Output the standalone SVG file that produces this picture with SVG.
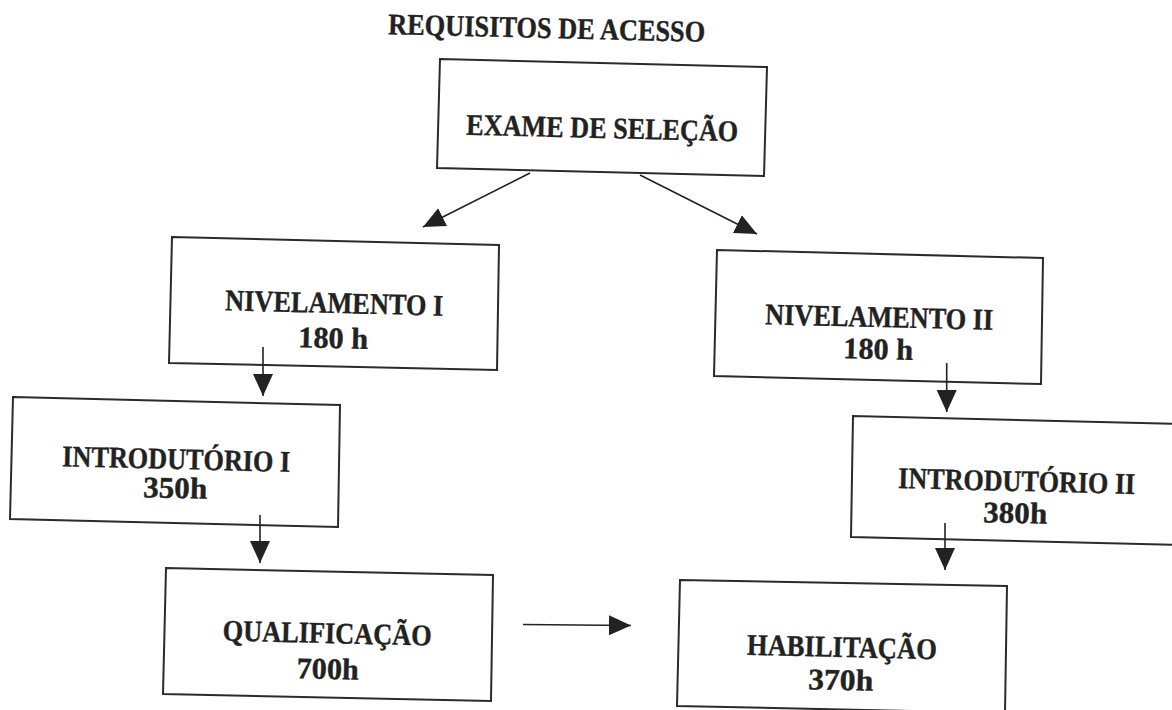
<svg xmlns="http://www.w3.org/2000/svg" width="1172" height="710" viewBox="0 0 1172 710">
<style>
.box{fill:none;stroke:#2b2b2b;stroke-width:2}
.lbl{font-family:"Liberation Serif","Times New Roman",serif;font-weight:bold;font-size:30px;fill:#222;stroke:#222;stroke-width:0.4;text-anchor:middle}
.conn{stroke:#222;stroke-width:1.6;fill:none;marker-end:url(#ah)}
</style>
<defs>
<marker id="ah" markerUnits="userSpaceOnUse" markerWidth="24" markerHeight="20" refX="22" refY="10" orient="auto">
<path d="M0,0 L22,10 L0,20 z" fill="#222"/>
</marker>
</defs>
<rect width="1172" height="710" fill="#fff"/>
<g id="title">
<text class="lbl" x="546.5" y="38" textLength="317" lengthAdjust="spacingAndGlyphs" transform="rotate(1.4 546.5 38)">REQUISITOS DE ACESSO</text>
</g>
<g id="exame">
<polygon class="box" points="440,59 767,67 764,176 437,168"/>
<text class="lbl" x="602" y="138" textLength="272" lengthAdjust="spacingAndGlyphs" transform="rotate(1.4 602 138)">EXAME DE SELEÇÃO</text>
</g>
<g id="nivelamento1">
<polygon class="box" points="172,237 499,245 497,370 169,363"/>
<text class="lbl" x="334" y="313" textLength="218" lengthAdjust="spacingAndGlyphs" transform="rotate(1.4 334 313)">NIVELAMENTO I</text>
<text class="lbl" x="333" y="348" textLength="70" lengthAdjust="spacingAndGlyphs" transform="rotate(1.4 333 348)">180 h</text>
</g>
<g id="nivelamento2">
<polygon class="box" points="717,250 1043,258 1041,384 714,376"/>
<text class="lbl" x="879" y="327" textLength="228" lengthAdjust="spacingAndGlyphs" transform="rotate(1.4 879 327)">NIVELAMENTO II</text>
<text class="lbl" x="878" y="359" textLength="70" lengthAdjust="spacingAndGlyphs" transform="rotate(1.4 878 359)">180 h</text>
</g>
<g id="introdutorio1">
<polygon class="box" points="13,397 340,405 338,527 10,519"/>
<text class="lbl" x="176" y="469" textLength="228" lengthAdjust="spacingAndGlyphs" transform="rotate(1.4 176 469)">INTRODUTÓRIO I</text>
<text class="lbl" x="175" y="498" textLength="64" lengthAdjust="spacingAndGlyphs" transform="rotate(1.4 175 498)">350h</text>
</g>
<g id="introdutorio2">
<polyline class="box" points="1180,424 853,416 851,537 1180,545"/>
<text class="lbl" x="1016.5" y="491" textLength="237" lengthAdjust="spacingAndGlyphs" transform="rotate(1.4 1016.5 491)">INTRODUTÓRIO II</text>
<text class="lbl" x="1015" y="523" textLength="64" lengthAdjust="spacingAndGlyphs" transform="rotate(1.4 1015 523)">380h</text>
</g>
<g id="qualificacao">
<polygon class="box" points="166,568 493,575 491,701 163,694"/>
<text class="lbl" x="327" y="643" textLength="209" lengthAdjust="spacingAndGlyphs" transform="rotate(1.4 327 643)">QUALIFICAÇÃO</text>
<text class="lbl" x="327.5" y="679" textLength="62" lengthAdjust="spacingAndGlyphs" transform="rotate(1.4 327.5 679)">700h</text>
</g>
<g id="habilitacao">
<polygon class="box" points="680,580 1007,586 1005,713 677,706"/>
<text class="lbl" x="841.7" y="657" textLength="190" lengthAdjust="spacingAndGlyphs" transform="rotate(1.4 841.7 657)">HABILITAÇÃO</text>
<text class="lbl" x="840.5" y="690" textLength="65" lengthAdjust="spacingAndGlyphs" transform="rotate(1.4 840.5 690)">370h</text>
</g>
<g id="connectors">
<line class="conn" x1="530" y1="173" x2="423" y2="227"/>
<line class="conn" x1="640" y1="175" x2="757" y2="234"/>
<line class="conn" x1="263" y1="347" x2="263" y2="396"/>
<line class="conn" x1="946.7" y1="363" x2="946.7" y2="412"/>
<line class="conn" x1="260" y1="515" x2="260" y2="563"/>
<line class="conn" x1="945" y1="523" x2="945" y2="570"/>
<line class="conn" x1="523" y1="624.5" x2="631" y2="625.5"/>
</g>
</svg>
